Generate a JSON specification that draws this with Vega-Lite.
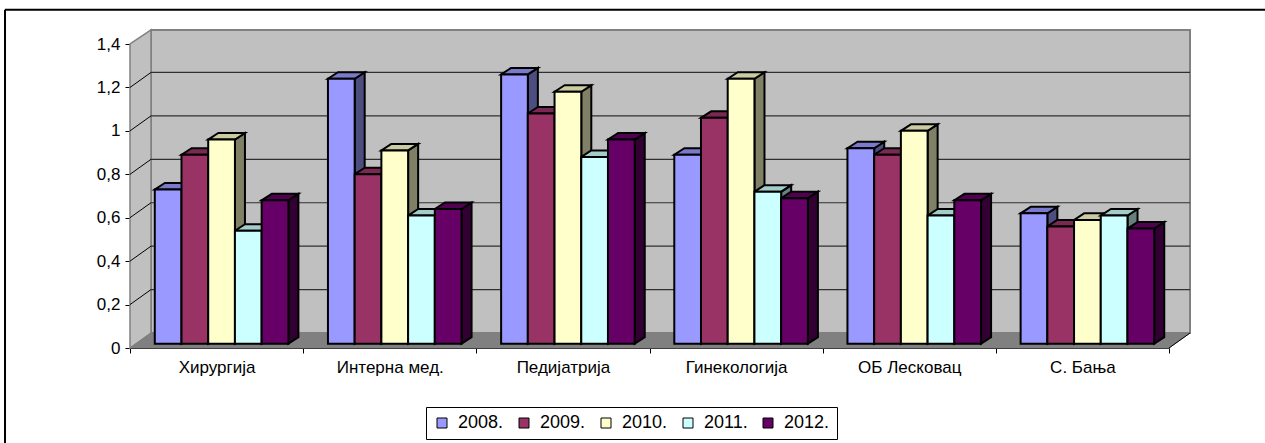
{"$schema":"https://vega.github.io/schema/vega-lite/v6.json","width":1039,"height":304,"autosize":{"type":"none"},"padding":{"left":130,"top":44,"right":96,"bottom":95},"background":"white","config":{"view":{"stroke":null},"font":"Liberation Sans"},"datasets":{"bars":[{"cat":"Хирургија","series":"2008.","v":0.71},{"cat":"Хирургија","series":"2009.","v":0.87},{"cat":"Хирургија","series":"2010.","v":0.94},{"cat":"Хирургија","series":"2011.","v":0.52},{"cat":"Хирургија","series":"2012.","v":0.66},{"cat":"Интерна мед.","series":"2008.","v":1.22},{"cat":"Интерна мед.","series":"2009.","v":0.78},{"cat":"Интерна мед.","series":"2010.","v":0.89},{"cat":"Интерна мед.","series":"2011.","v":0.59},{"cat":"Интерна мед.","series":"2012.","v":0.62},{"cat":"Педијатрија","series":"2008.","v":1.24},{"cat":"Педијатрија","series":"2009.","v":1.06},{"cat":"Педијатрија","series":"2010.","v":1.16},{"cat":"Педијатрија","series":"2011.","v":0.86},{"cat":"Педијатрија","series":"2012.","v":0.94},{"cat":"Гинекологија","series":"2008.","v":0.87},{"cat":"Гинекологија","series":"2009.","v":1.04},{"cat":"Гинекологија","series":"2010.","v":1.22},{"cat":"Гинекологија","series":"2011.","v":0.7},{"cat":"Гинекологија","series":"2012.","v":0.67},{"cat":"ОБ Лесковац","series":"2008.","v":0.9},{"cat":"ОБ Лесковац","series":"2009.","v":0.87},{"cat":"ОБ Лесковац","series":"2010.","v":0.98},{"cat":"ОБ Лесковац","series":"2011.","v":0.59},{"cat":"ОБ Лесковац","series":"2012.","v":0.66},{"cat":"С. Бања","series":"2008.","v":0.6},{"cat":"С. Бања","series":"2009.","v":0.54},{"cat":"С. Бања","series":"2010.","v":0.57},{"cat":"С. Бања","series":"2011.","v":0.59},{"cat":"С. Бања","series":"2012.","v":0.53}]},"resolve":{"scale":{"x":"independent","color":"independent"},"axis":{"x":"independent"}},"layer":[{"data":{"values":[{"x":-125,"x2":1135,"y":1.5576,"y2":1.5576},{"x":-125,"x2":-125,"y":1.5576,"y2":-0.438}]},"mark":{"type":"rule","color":"#000","strokeWidth":2,"clip":false},"encoding":{"x":{"field":"x","type":"quantitative","scale":{"domain":[0,1039]},"axis":null},"x2":{"field":"x2"},"y":{"field":"y","type":"quantitative","scale":{"domain":[0,1.4]},"axis":{"values":[0,0.2,0.4,0.6,0.8,1,1.2,1.4],"title":null,"grid":false,"domainColor":"#000","tickColor":"#000","tickSize":5,"labelColor":"#000","labelFontSize":17,"labelPadding":5,"labelExpr":"replace(format(datum.value,'~g'),'.',',')"}},"y2":{"field":"y2"}}},{"data":{"values":[{"x":21,"x2":1060,"y":0.069,"y2":1.465}]},"mark":{"type":"rect","fill":"#C0C0C0","stroke":"#808080","strokeWidth":2},"encoding":{"x":{"field":"x","type":"quantitative","scale":{"domain":[0,1039]},"axis":null},"x2":{"field":"x2"},"y":{"field":"y","type":"quantitative"},"y2":{"field":"y2"}}},{"data":{"values":[{"x":0,"y":0,"y2":1.4},{"x":21,"y":0.069,"y2":1.465}]},"mark":{"type":"area","fill":"#C0C0C0","stroke":"#808080","strokeWidth":1.5,"orient":"vertical"},"encoding":{"x":{"field":"x","type":"quantitative","scale":{"domain":[0,1039]},"axis":null},"y":{"field":"y","type":"quantitative"},"y2":{"field":"y2"}}},{"data":{"values":[{"g":0.2,"x":21,"x2":1060,"y":0.269},{"g":0.4,"x":21,"x2":1060,"y":0.469},{"g":0.6,"x":21,"x2":1060,"y":0.669},{"g":0.8,"x":21,"x2":1060,"y":0.869},{"g":1,"x":21,"x2":1060,"y":1.069},{"g":1.2,"x":21,"x2":1060,"y":1.269}]},"mark":{"type":"rule","color":"#303030","strokeWidth":1.2},"encoding":{"x":{"field":"x","type":"quantitative","scale":{"domain":[0,1039]},"axis":null},"x2":{"field":"x2"},"y":{"field":"y","type":"quantitative"}}},{"data":{"values":[{"g":0.2,"x":0,"y":0.2},{"g":0.2,"x":21,"y":0.269},{"g":0.4,"x":0,"y":0.4},{"g":0.4,"x":21,"y":0.469},{"g":0.6,"x":0,"y":0.6},{"g":0.6,"x":21,"y":0.669},{"g":0.8,"x":0,"y":0.8},{"g":0.8,"x":21,"y":0.869},{"g":1,"x":0,"y":1},{"g":1,"x":21,"y":1.069},{"g":1.2,"x":0,"y":1.2},{"g":1.2,"x":21,"y":1.269}]},"mark":{"type":"line","color":"#000","strokeWidth":1},"encoding":{"x":{"field":"x","type":"quantitative","scale":{"domain":[0,1039]},"axis":null},"y":{"field":"y","type":"quantitative"},"detail":{"field":"g"}}},{"data":{"values":[{"x":0,"y":0,"y2":0},{"x":21,"y":0,"y2":0.069},{"x":1039,"y":0,"y2":0.069},{"x":1060,"y":0.069,"y2":0.069}]},"mark":{"type":"area","fill":"#808080","stroke":"#808080","strokeWidth":1,"orient":"vertical"},"encoding":{"x":{"field":"x","type":"quantitative","scale":{"domain":[0,1039]},"axis":null},"y":{"field":"y","type":"quantitative"},"y2":{"field":"y2"}}},{"data":{"values":[{"x":1039,"y":0},{"x":1060,"y":0.069}]},"mark":{"type":"line","color":"#000","strokeWidth":1},"encoding":{"x":{"field":"x","type":"quantitative","scale":{"domain":[0,1039]},"axis":null},"y":{"field":"y","type":"quantitative"}}},{"data":{"name":"bars"},"transform":[{"calculate":"indexof(['Хирургија','Интерна мед.','Педијатрија','Гинекологија','ОБ Лесковац','С. Бања'],datum.cat)*173.17+24.8+indexof(['2008.','2009.','2010.','2011.','2012.'],datum.series)*26.72","as":"L"},{"calculate":"[0,1]","as":"e"},{"flatten":["e"]},{"calculate":"datum.L+26.72+10*datum.e","as":"sx"},{"calculate":"datum.v+0.02+0.03*datum.e","as":"yt"},{"calculate":"0.02+0.03*datum.e","as":"yb"}],"mark":{"type":"area","stroke":"#000","strokeWidth":2,"orient":"vertical"},"encoding":{"x":{"field":"sx","type":"quantitative","scale":{"domain":[0,1039]},"axis":null},"y":{"field":"yt","type":"quantitative"},"y2":{"field":"yb"},"detail":[{"field":"cat"},{"field":"series"}],"color":{"field":"series","type":"nominal","legend":null,"scale":{"domain":["2008.","2009.","2010.","2011.","2012."],"range":["#4D4D80","#4D1A33","#808066","#668080","#330033"]}}}},{"data":{"name":"bars"},"transform":[{"calculate":"indexof(['Хирургија','Интерна мед.','Педијатрија','Гинекологија','ОБ Лесковац','С. Бања'],datum.cat)*173.17+24.8+indexof(['2008.','2009.','2010.','2011.','2012.'],datum.series)*26.72","as":"L"},{"calculate":"[0,1]","as":"e"},{"flatten":["e"]},{"calculate":"datum.L+10*datum.e","as":"tx"},{"calculate":"datum.L+26.72+10*datum.e","as":"tx2"},{"calculate":"datum.v+0.02+0.03*datum.e","as":"ty"}],"mark":{"type":"area","stroke":"#000","strokeWidth":2,"orient":"horizontal"},"encoding":{"y":{"field":"ty","type":"quantitative"},"x":{"field":"tx","type":"quantitative","scale":{"domain":[0,1039]},"axis":null},"x2":{"field":"tx2"},"detail":[{"field":"cat"},{"field":"series"}],"color":{"field":"series","type":"nominal","legend":null,"scale":{"domain":["2008.","2009.","2010.","2011.","2012."],"range":["#7A7ACC","#7A2952","#CCCCA3","#A3CCCC","#520052"]}}}},{"data":{"name":"bars"},"transform":[{"calculate":"datum.v+0.02","as":"yt"},{"calculate":"0.02","as":"yb"}],"mark":{"type":"bar","stroke":"#000","strokeWidth":2},"encoding":{"x":{"field":"cat","type":"nominal","sort":null,"scale":{"paddingInner":0,"paddingOuter":0},"axis":{"title":null,"labelAngle":0,"tickBand":"extent","domainColor":"#000","domainWidth":1,"tickColor":"#000","tickSize":5,"labelColor":"#000","labelFontSize":17,"labelPadding":6}},"xOffset":{"field":"series","type":"nominal","scale":{"paddingInner":0,"paddingOuter":0.741,"align":0.626}},"y":{"field":"yt","type":"quantitative"},"y2":{"field":"yb"},"color":{"field":"series","type":"nominal","scale":{"domain":["2008.","2009.","2010.","2011.","2012."],"range":["#9999FF","#993366","#FFFFCC","#CCFFFF","#660066"]},"legend":{"title":null,"orient":"none","legendX":296,"legendY":363,"direction":"horizontal","columns":5,"symbolType":"square","symbolSize":100,"symbolStrokeColor":"#000","symbolStrokeWidth":1,"symbolOpacity":1,"labelFontSize":18,"labelColor":"#000","strokeColor":"#000","fillColor":"#fff","padding":7,"columnPadding":11,"labelOffset":7}}}}]}
